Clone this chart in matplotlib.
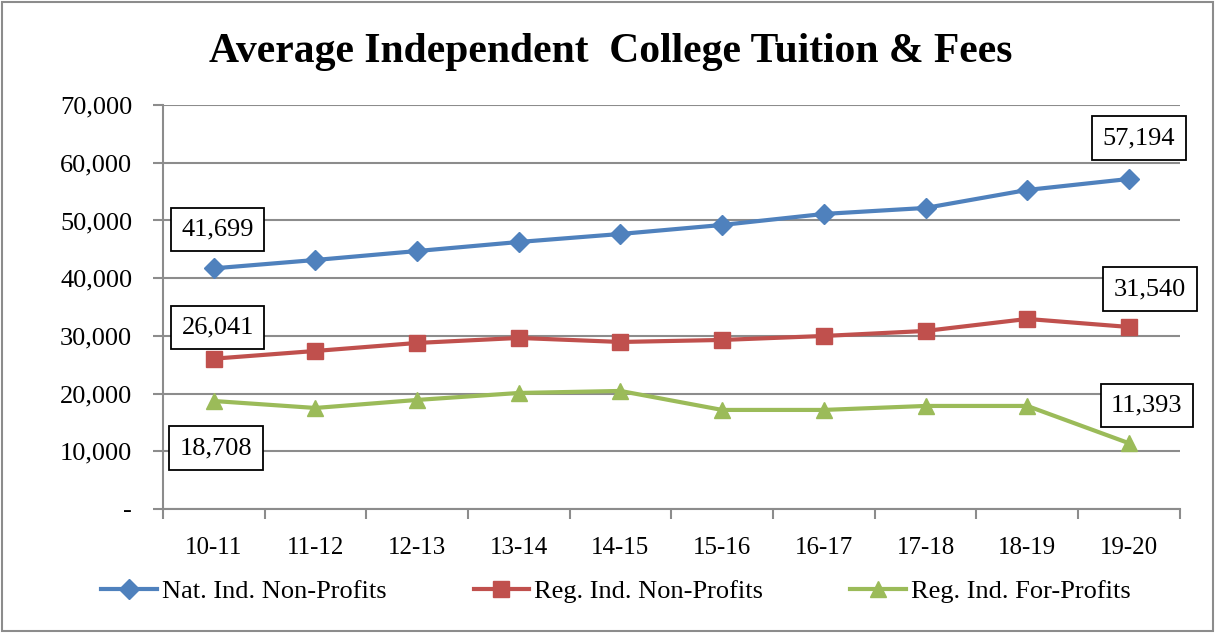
import matplotlib
matplotlib.use("Agg")
import matplotlib.pyplot as plt
from matplotlib.patches import Rectangle

# chart data
years = ["10-11", "11-12", "12-13", "13-14", "14-15", "15-16", "16-17", "17-18", "18-19", "19-20"]
nat_nonprofit = [41699, 43150, 44700, 46270, 47660, 49220, 51130, 52170, 55290, 57194]
reg_nonprofit = [26041, 27380, 28770, 29640, 28940, 29290, 29980, 30850, 32930, 31540]
reg_forprofit = [18708, 17500, 18890, 20100, 20450, 17160, 17160, 17850, 17850, 11393]
series_names = ["Nat. Ind. Non-Profits", "Reg. Ind. Non-Profits", "Reg. Ind. For-Profits"]
y_ticks = [0, 10000, 20000, 30000, 40000, 50000, 60000, 70000]

plt.rcParams["font.family"] = ["Liberation Serif", "DejaVu Serif"]

fig = plt.figure(figsize=(12.15, 6.33), dpi=100)
ax = fig.add_axes([0.134, 0.196, 0.837, 0.638])

x = list(range(len(years)))
blue, red, green = "#4F81BD", "#C0504D", "#9BBB59"
ax.plot(x, nat_nonprofit, color=blue, lw=3, marker="D", ms=10, label=series_names[0], zorder=3)
ax.plot(x, reg_nonprofit, color=red, lw=3, marker="s", ms=11, label=series_names[1], zorder=3)
ax.plot(x, reg_forprofit, color=green, lw=3, marker="^", ms=12, label=series_names[2], zorder=3)

ax.set_xlim(-0.5, len(years) - 0.5)
ax.set_ylim(0, 70000)
ax.set_yticks(y_ticks)
ax.set_yticklabels(["-"] + ["{:,}".format(v) for v in y_ticks[1:]])
ax.set_xticks(x)
ax.set_xticklabels(years)
ax.set_xticks([i - 0.5 for i in range(len(years) + 1)], minor=True)
ax.tick_params(axis="x", which="major", length=0, labelsize=18, pad=20)
ax.tick_params(axis="x", which="minor", length=7, width=1.5, color="#8c8c8c", direction="out")
ax.tick_params(axis="y", length=7, width=1.5, color="#8c8c8c", labelsize=19, pad=15)

ax.grid(axis="y", color="#8c8c8c", lw=1.5)
ax.set_axisbelow(True)
for s in ["top", "right"]:
    ax.spines[s].set_visible(False)
for s in ["left", "bottom"]:
    ax.spines[s].set_color("#8c8c8c")
    ax.spines[s].set_linewidth(1.5)

# data labels on first and last points
box = dict(boxstyle="square,pad=0.4", fc="white", ec="black", lw=1.3)
labels = [
    (0, nat_nonprofit[0], (4, 39)),
    (0, reg_nonprofit[0], (4, 31)),
    (0, reg_forprofit[0], (2, -47)),
    (9, nat_nonprofit[9], (10, 41)),
    (9, reg_nonprofit[9], (21, 38)),
    (9, reg_forprofit[9], (18, 38)),
]
for xi, v, off in labels:
    ax.annotate("{:,}".format(v), (xi, v), xytext=off, textcoords="offset pixels",
                ha="center", va="center", fontsize=19, bbox=box, zorder=5)

fig.suptitle("Average Independent  College Tuition & Fees", x=0.503, y=0.918,
             fontsize=30, fontweight="bold", va="center")

fig.legend(loc="center", bbox_to_anchor=(0.507, 0.066), ncol=3, frameon=False,
           fontsize=19, handlelength=2.1, handletextpad=0.2, columnspacing=3.3)

fig.add_artist(Rectangle((0.002, 0.003), 0.996, 0.994, transform=fig.transFigure,
                         fill=False, ec="#8c8c8c", lw=1.5))

fig.savefig("out.png", dpi=100)
